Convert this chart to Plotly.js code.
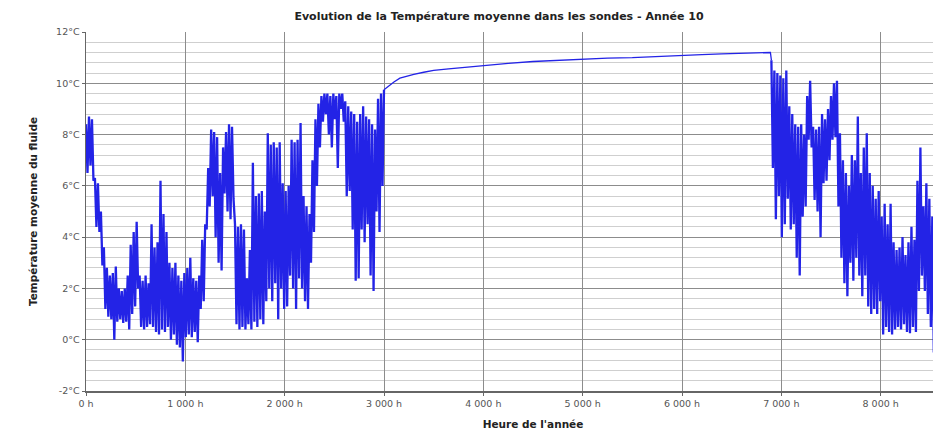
<!DOCTYPE html>
<html>
<head>
<meta charset="utf-8">
<script src="https://cdn.plot.ly/plotly-3.0.1.min.js"></script>
<style>
  html, body { margin: 0; padding: 0; background: #ffffff; overflow: hidden; width: 933px; height: 433px; }
  #chart { width: 1000px; height: 433px; }
</style>
</head>
<body>
<div id="chart"></div>
<script>
// ---- Data ----
const chartTitle = "Evolution de la Température moyenne dans les sondes - Année 10";
const xAxisTitle = "Heure de l'année";
const yAxisTitle = "Température moyenne du fluide";

const xTickValues = [0, 1000, 2000, 3000, 4000, 5000, 6000, 7000, 8000];
const xTickLabels = ["0 h", "1 000 h", "2 000 h", "3 000 h", "4 000 h", "5 000 h", "6 000 h", "7 000 h", "8 000 h"];
const yTickValues = [-2, 0, 2, 4, 6, 8, 10, 12];
const yTickLabels = ["-2°C", "0°C", "2°C", "4°C", "6°C", "8°C", "10°C", "12°C"];

// Winter/spring part: samples every 15 h from hour 0
const winterStartHour = 0;
const sampleStepHours = 15;
const winterTemps = [
  8.4, 6.5, 8.7, 6.8, 8.6, 6.2, 6.3, 4.4, 6.1, 4.2,
  5.0, 2.9, 3.6, 1.2, 2.8, 0.9, 2.5, 0.8, 2.6, 0.0,
  2.85, 0.7, 2.0, 0.8, 1.9, 0.65, 2.0, 0.7, 2.5, 0.4,
  3.7, 1.0, 4.2, 1.3, 4.6, 2.0, 2.5, 0.5, 2.3, 0.4,
  2.5, 0.5, 2.2, 0.6, 4.5, 0.5, 3.6, 0.3, 3.8, 0.2,
  6.2, 0.4, 4.9, 0.3, 4.2, 0.5, 3.0, 0.0, 2.8, 0.2,
  3.0, -0.2, 2.5, -0.3, 2.3, -0.85, 2.6, 0.1, 2.8, 0.2,
  3.2, 0.1, 2.4, 0.3, 2.3, -0.1, 2.5, 1.2, 3.9, 1.5,
  4.5, 4.3, 6.7, 5.2, 8.2, 5.6, 8.1, 4.0, 7.9, 3.0,
  6.5, 2.7, 7.5, 5.7, 8.1, 5.0, 8.4, 4.7, 8.3, 5.5,
  4.5, 0.6, 4.4, 0.4, 4.5, 0.5, 4.3, 0.4, 2.4, 0.6,
  3.5, 0.4, 6.9, 0.7, 5.6, 0.5, 5.7, 0.8, 5.8, 0.6,
  5.0, 1.5, 8.05, 2.0, 7.6, 1.5, 7.7, 2.2, 7.5, 0.8,
  7.7, 2.0, 6.1, 1.2, 5.8, 1.3, 6.0, 2.5, 7.8, 2.0,
  7.7, 1.2, 7.8, 2.4, 8.45, 2.0, 5.6, 1.5, 5.2, 1.2,
  4.9, 3.0, 7.0, 4.2, 8.6, 6.0, 9.2, 7.5, 9.5, 8.5,
  9.6, 8.8, 9.6, 8.0, 9.5, 7.5, 9.6, 8.6, 9.5, 6.7,
  9.6, 9.0, 9.6, 8.5, 9.3, 5.6, 9.1, 5.8, 8.9, 4.3,
  8.8, 2.3, 8.5, 2.4, 8.8, 4.3, 9.1, 3.8, 8.7, 4.5,
  8.6, 2.5, 8.4, 1.9, 8.2, 5.0, 9.4, 4.2, 9.6, 6.0,
  9.75
];

// Summer part: smooth recovery curve
const summerHours = [3015, 3030, 3060, 3100, 3160, 3230, 3300, 3400, 3500, 3650, 3800, 4000, 4250, 4500, 4750, 5000, 5250, 5500, 5750, 6000, 6200, 6400, 6600, 6800, 6890];
const summerTemps = [9.8, 9.85, 9.95, 10.05, 10.2, 10.28, 10.35, 10.43, 10.5, 10.56, 10.62, 10.7, 10.78, 10.85, 10.9, 10.95, 10.98, 11.0, 11.05, 11.1, 11.12, 11.15, 11.17, 11.18, 11.2];

// Autumn part: samples every 15 h from hour 6900
const autumnStartHour = 6900;
const autumnTemps = [
  10.9, 6.7, 10.5, 4.7, 10.4, 5.6, 10.3, 4.0, 10.2, 4.5,
  10.5, 5.5, 9.1, 4.3, 8.8, 4.5, 8.4, 3.2, 8.3, 2.5,
  8.4, 4.8, 8.0, 5.2, 9.5, 7.8, 10.1, 7.5, 8.3, 5.45,
  8.2, 5.0, 8.3, 4.0, 8.8, 6.1, 8.6, 6.2, 9.0, 7.0,
  9.5, 7.8, 10.0, 7.9, 10.1, 5.2, 8.05, 3.2, 7.0, 2.2,
  6.5, 1.7, 6.0, 3.0, 7.2, 2.3, 7.0, 3.2, 8.7, 2.5,
  6.5, 1.7, 7.5, 2.5, 8.05, 1.3, 6.5, 1.0, 6.0, 1.2,
  5.5, 1.0, 5.8, 1.5, 4.8, 0.2, 5.3, 0.5, 4.5, 0.3,
  5.3, 0.2, 3.8, 0.4, 3.5, 0.5, 3.6, 0.4, 4.0, 0.6,
  3.3, 0.3, 3.8, 0.25, 4.4, 0.5, 3.9, 0.3, 6.2, 1.9,
  7.5, 2.5, 5.2, 1.9, 6.1, 1.0, 5.5, 0.5, 4.8, -0.5,
  3.5
];

// ---- Assemble the series (one series, drawn in three pieces) ----
const winterX = winterTemps.map((t, i) => winterStartHour + i * sampleStepHours);
const autumnX = autumnTemps.map((t, i) => autumnStartHour + i * sampleStepHours);
const summerX = [winterX[winterX.length - 1]].concat(summerHours, [autumnX[0]]);
const summerY = [winterTemps[winterTemps.length - 1]].concat(summerTemps, [autumnTemps[0]]);

const lineColor = 'rgb(35,35,230)';
const traces = [
  { x: winterX, y: winterTemps, type: 'scatter', mode: 'lines', line: { color: lineColor, width: 2.3 }, showlegend: false, name: 'Température' },
  { x: summerX, y: summerY, type: 'scatter', mode: 'lines', line: { color: lineColor, width: 1.3 }, showlegend: false, name: 'Température' },
  { x: autumnX, y: autumnTemps, type: 'scatter', mode: 'lines', line: { color: lineColor, width: 2.3 }, showlegend: false, name: 'Température' }
];

const W = 1000, H = 433;
const tickFont = { family: 'DejaVu Sans, sans-serif', size: 9.5, color: '#555555' };
const titleFont = { family: 'DejaVu Sans, sans-serif', size: 10.5, color: '#222222' };

const layout = {
  width: W, height: H,
  margin: { l: 86, r: W - 980, t: 32, b: 42, pad: 0 },
  paper_bgcolor: '#ffffff', plot_bgcolor: '#ffffff',
  title: { text: '<b>' + chartTitle + '</b>', font: { family: 'DejaVu Sans, sans-serif', size: 11, color: '#222222' }, x: 499 / W, xanchor: 'center', y: 1 - 16 / H, yanchor: 'middle' },
  xaxis: {
    range: [0, 9000], tickvals: xTickValues, ticktext: xTickLabels,
    tickfont: tickFont, ticks: 'outside', ticklen: 3, tickcolor: '#666666',
    showgrid: true, gridcolor: '#8c8c8c', gridwidth: 1,
    showline: true, linecolor: '#666666', linewidth: 2,
    zeroline: false,
    title: { text: '<b>' + xAxisTitle + '</b>', font: titleFont, standoff: 12 }
  },
  yaxis: {
    range: [-2, 12], tickvals: yTickValues, ticktext: yTickLabels,
    tickfont: tickFont, ticks: 'outside', ticklen: 3, tickcolor: '#666666',
    showgrid: true, gridcolor: '#8c8c8c', gridwidth: 1,
    minor: { dtick: 0.4, tick0: -2, showgrid: true, gridcolor: '#cfcfcf', gridwidth: 1, ticks: '' },
    showline: true, linecolor: '#666666', linewidth: 1.5,
    zeroline: false,
    title: { text: '<b>' + yAxisTitle + '</b>', font: titleFont, standoff: 16 }
  }
};

Plotly.newPlot('chart', traces, layout, { staticPlot: true, displayModeBar: false });
</script>
</body>
</html>
